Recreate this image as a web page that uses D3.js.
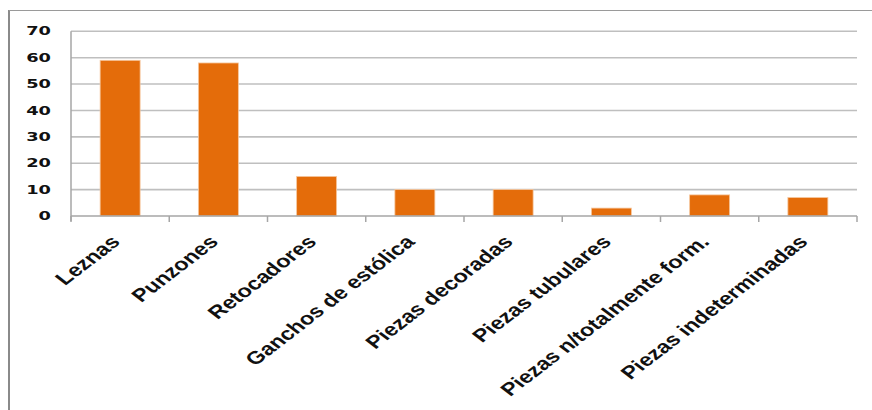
<!DOCTYPE html>
<html>
<head>
<meta charset="utf-8">
<script src="https://cdn.jsdelivr.net/npm/d3@7"></script>
<style>
  html, body { margin: 0; padding: 0; background: #fff; }
  svg { display: block; }
</style>
</head>
<body>
<svg id="chart" width="872" height="410"></svg>
<script>
const categories = ["Leznas", "Punzones", "Retocadores", "Ganchos de estólica", "Piezas decoradas", "Piezas tubulares", "Piezas n/totalmente form.", "Piezas indeterminadas"];
const values = [59, 58, 15, 10, 10, 3, 8, 7];
const yTicks = [0, 10, 20, 30, 40, 50, 60, 70];

(function () {
const svg = d3.select("#chart");
const W = 872, H = 410;
const mLeft = 71, mRight = 857, mTop = 31.3, mBottom = 216;

// outer border (partially visible)
svg.append("line").attr("x1", 9).attr("x2", 9).attr("y1", 10).attr("y2", H)
  .attr("stroke", "#8a8a8a").attr("stroke-width", 2);
svg.append("line").attr("x1", 9).attr("x2", W).attr("y1", 10.5).attr("y2", 10.5)
  .attr("stroke", "#9a9a9a").attr("stroke-width", 1.2);

const x = d3.scaleBand().domain(categories).range([mLeft, mRight])
  .paddingInner(0.593).paddingOuter(0.2965);
const y = d3.scaleLinear().domain([0, 70]).range([mBottom, mTop]);

// gridlines
svg.append("g").selectAll("line").data(yTicks.filter(d => d > 0)).join("line")
  .attr("x1", mLeft).attr("x2", mRight)
  .attr("y1", d => y(d)).attr("y2", d => y(d))
  .attr("stroke", "#bfbfbf").attr("stroke-width", 1.6);

// bars
svg.append("g").selectAll("rect").data(values).join("rect")
  .attr("x", (d, i) => x(categories[i]))
  .attr("width", x.bandwidth())
  .attr("y", d => y(d))
  .attr("height", d => y(0) - y(d))
  .attr("fill", "#e46c0a")
  .attr("stroke", "#f6c8a0").attr("stroke-width", 0.8);

// y axis line
svg.append("line").attr("x1", mLeft).attr("x2", mLeft).attr("y1", mTop).attr("y2", mBottom + 5)
  .attr("stroke", "#a6a6a6").attr("stroke-width", 1.5);

// x axis line + ticks at category boundaries
svg.append("line").attr("x1", mLeft).attr("x2", mRight).attr("y1", mBottom).attr("y2", mBottom)
  .attr("stroke", "#a6a6a6").attr("stroke-width", 1.6);
const step = x.step();
const boundaries = d3.range(categories.length + 1).map(i => mLeft + i * step);
svg.append("g").selectAll("line").data(boundaries).join("line")
  .attr("x1", d => d).attr("x2", d => d)
  .attr("y1", mBottom).attr("y2", mBottom + 6)
  .attr("stroke", "#a6a6a6").attr("stroke-width", 1.5);

// y tick labels (horizontally stretched like the reference)
svg.append("g").selectAll("text").data(yTicks).join("text")
  .attr("transform", d => `translate(51,${y(d)}) scale(1.55,1)`)
  .attr("text-anchor", "end")
  .attr("dy", "0.36em")
  .attr("font-family", "DejaVu Sans")
  .attr("font-weight", "bold")
  .attr("font-size", 11.5)
  .attr("fill", "#111")
  .text(d => d);

// x category labels, rotated
svg.append("g").selectAll("text").data(categories).join("text")
  .attr("transform", d => `translate(${x(d) + x.bandwidth() / 2 + 1},243) scale(1.3,1) rotate(-45)`)
  .attr("text-anchor", "end")
  .attr("font-family", "Liberation Sans, Arial, sans-serif")
  .attr("font-weight", "bold")
  .attr("font-size", 18)
  .attr("fill", "#111")
  .text(d => d);
})();
</script>
</body>
</html>
